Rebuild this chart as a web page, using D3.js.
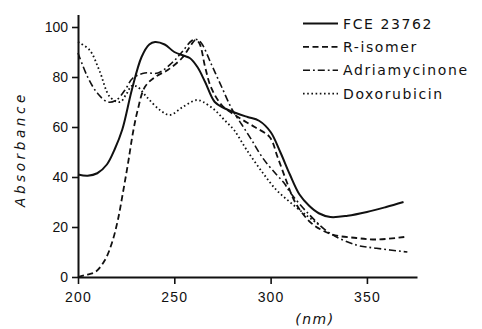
<!DOCTYPE html>
<html>
<head>
<meta charset="utf-8">
<script src="https://cdn.jsdelivr.net/npm/d3@7"></script>
<style>
  body { margin: 0; background: #fff; }
  svg { display: block; font-family: "DejaVu Sans", sans-serif; }
  .tick text { font-size: 14px; fill: #111; }
  .legend-label { font-size: 14px; letter-spacing: 1.6px; fill: #111; }
</style>
</head>
<body>
<svg id="chart" width="482" height="329"></svg>
<script>
// wavelength (nm) / absorbance pairs
const fceWave = [200, 205, 210, 215, 219, 223, 228, 233, 237, 240, 245, 250, 255, 258, 262, 266, 271, 276, 282, 288, 294, 300, 305, 310, 315, 320, 325, 331, 340, 350, 360, 369];
const fceValue = [41, 40.5, 41.5, 45, 51, 59, 75, 88, 93, 94, 93, 90, 88.5, 87.6, 84, 78, 70, 67.5, 65.6, 64, 62.5, 58, 50, 41, 33, 28.5, 25.5, 24, 24.5, 26, 28, 30];

const rIsoWave = [200, 204, 209, 214, 217.6, 220.7, 223.3, 226, 228.5, 231, 234.7, 240, 246.6, 254, 258, 261, 263, 266, 269, 274.6, 283, 291.7, 299.5, 303.6, 308, 312, 316, 322, 332, 344.5, 355, 369.4];
const rIsoValue = [0, 0.8, 2, 6.8, 13.6, 22.8, 33.6, 45.6, 57.6, 66.8, 76, 80, 82.8, 87.6, 92, 94.8, 93.5, 84, 76, 68.8, 64, 60, 56, 48, 38.8, 31, 26, 21, 17, 15.6, 15, 16];

const adriaWave = [200, 205, 210, 215.5, 220, 224.4, 228.5, 234.7, 241.5, 248.7, 254, 259, 261.6, 264, 269.4, 274.6, 280, 285, 290, 296, 303, 307, 310, 320, 330.6, 344.5, 355, 371];
const adriaValue = [89.6, 80, 73.6, 70, 70.8, 74.8, 79.6, 81.6, 81.6, 85.6, 90, 94.5, 95, 93.6, 84.8, 76, 67, 61, 55, 47.5, 41, 37.6, 34, 25, 17.6, 12.8, 11.5, 10];

const doxoWave = [200, 206, 211, 216.6, 221.8, 225, 228, 231, 235.7, 242.5, 247.7, 254.4, 261.6, 265, 271, 276, 281, 287.6, 296, 303, 310, 318, 325];
const doxoValue = [94, 90.8, 82.8, 72, 70, 73, 76.5, 76, 72, 66.8, 64.8, 68, 70.8, 70, 66.8, 62.8, 58.8, 50.8, 41.6, 34.8, 30, 25, 21];

const seriesNames = ["FCE 23762", "R-isomer", "Adriamycinone", "Doxorubicin"];
const xTicks = [200, 250, 300, 350];
const yTicks = [0, 20, 40, 60, 80, 100];

const zip = (xs, ys) => xs.map((x, i) => ({ nm: x, value: ys[i] }));

const series = [
  { name: seriesNames[0], points: zip(fceWave, fceValue), dash: null, width: 2 },
  { name: seriesNames[1], points: zip(rIsoWave, rIsoValue), dash: "6,3.5", width: 1.8 },
  { name: seriesNames[2], points: zip(adriaWave, adriaValue), dash: "7,3,1.8,3", width: 1.6 },
  { name: seriesNames[3], points: zip(doxoWave, doxoValue), dash: "1.6,2.6", width: 1.8 },
];

const svg = d3.select("#chart");

const xScale = d3.scaleLinear().domain([200, 376]).range([78, 417]);
const yScale = d3.scaleLinear().domain([0, 105]).range([277, 14.5]);

const xAxis = d3
  .axisBottom(xScale)
  .tickValues(xTicks)
  .tickSize(7)
  .tickSizeOuter(0)
  .tickPadding(8)
  .tickFormat(d3.format("d"));

const yAxis = d3
  .axisLeft(yScale)
  .tickValues(yTicks)
  .tickSize(6)
  .tickSizeOuter(0)
  .tickPadding(4)
  .tickFormat(d3.format("d"));

const gx = svg.append("g").attr("transform", `translate(0, ${yScale(0)})`).call(xAxis);
const gy = svg.append("g").attr("transform", `translate(${xScale(200)}, 0)`).call(yAxis);

[gx, gy].forEach((g) => {
  g.select(".domain").attr("stroke", "#111").attr("stroke-width", 2);
  g.selectAll(".tick line").attr("stroke", "#111").attr("stroke-width", 1.6);
});
gx.selectAll(".tick text").attr("letter-spacing", "1.2px");

const line = d3
  .line()
  .curve(d3.curveCatmullRom.alpha(0.5))
  .x((d) => xScale(d.nm))
  .y((d) => yScale(d.value));

svg
  .append("g")
  .selectAll("path")
  .data(series)
  .join("path")
  .attr("d", (d) => line(d.points))
  .attr("fill", "none")
  .attr("stroke", "#111")
  .attr("stroke-width", (d) => d.width)
  .attr("stroke-dasharray", (d) => d.dash)
  .attr("stroke-linejoin", "round");

// legend
const legend = svg
  .append("g")
  .selectAll("g")
  .data(series)
  .join("g")
  .attr("transform", (d, i) => `translate(303, ${23.5 + i * 23.4})`);

legend
  .append("line")
  .attr("x1", 0)
  .attr("x2", 35)
  .attr("stroke", "#111")
  .attr("stroke-width", (d) => d.width)
  .attr("stroke-dasharray", (d) => d.dash);

legend
  .append("text")
  .attr("class", "legend-label")
  .attr("x", 40)
  .attr("dy", "0.36em")
  .text((d) => d.name);

svg
  .append("text")
  .attr("transform", "translate(25, 149) rotate(-90)")
  .attr("text-anchor", "middle")
  .attr("font-size", 13.5)
  .attr("font-style", "italic")
  .attr("letter-spacing", "3.6px")
  .attr("fill", "#111")
  .text("Absorbance");

svg
  .append("text")
  .attr("x", 315)
  .attr("y", 324)
  .attr("text-anchor", "middle")
  .attr("font-size", 14)
  .attr("font-style", "italic")
  .attr("letter-spacing", "1.5px")
  .attr("fill", "#111")
  .text("(nm)");
</script>
</body>
</html>
